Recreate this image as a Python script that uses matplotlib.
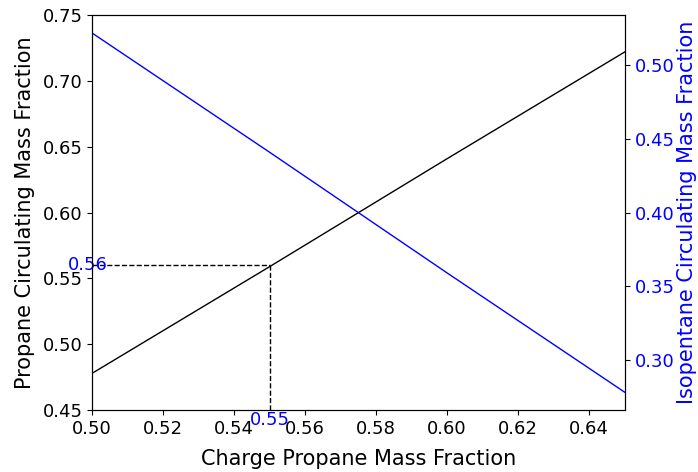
import matplotlib
matplotlib.use('Agg')
import matplotlib.pyplot as plt

# charge propane mass fraction
charge = [0.50, 0.55, 0.60, 0.65]
# circulating mass fractions
propane = [0.478, 0.559, 0.641, 0.722]
isopentane = [0.522, 0.441, 0.359, 0.278]

x_mark = 0.55
y_mark = 0.56

fig, ax = plt.subplots(figsize=(6.98, 4.72), dpi=100)
fig.subplots_adjust(left=0.132, right=0.895, top=0.968, bottom=0.131)

ax.plot(charge, propane, color='black', linewidth=1)
ax.set_xlim(0.50, 0.65)
ax.set_ylim(0.45, 0.75)
ax.set_xlabel('Charge Propane Mass Fraction', fontsize=15, labelpad=8)
ax.set_ylabel('Propane Circulating Mass Fraction', fontsize=15, labelpad=5)
ax.tick_params(labelsize=13)

# dashed guide lines to the chosen point
ax.plot([charge[0], x_mark], [y_mark, y_mark], 'k--', linewidth=1)
ax.plot([x_mark, x_mark], [0.45, y_mark], 'k--', linewidth=1)
ax.text(0.4989, y_mark, f'{y_mark:.2f}', color='blue', fontsize=13, ha='center', va='center')
ax.text(x_mark, 0.4495, f'{x_mark:.2f}', color='blue', fontsize=13, ha='center', va='top')

ax2 = ax.twinx()
ax2.plot(charge, isopentane, color='blue', linewidth=1)
ax2.set_ylabel('Isopentane Circulating Mass Fraction', color='blue', fontsize=15, labelpad=2)
ax2.tick_params(axis='y', labelcolor='blue', labelsize=13)

plt.savefig('out.png', dpi=100)
